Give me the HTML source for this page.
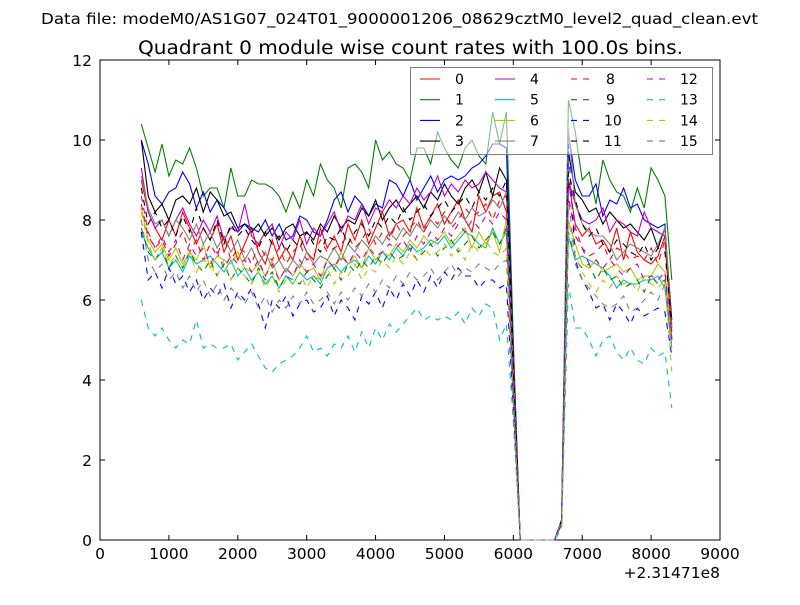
<!DOCTYPE html>
<html><head><meta charset="utf-8"><style>
body{margin:0;background:#fff;}
svg text{font-family:"DejaVu Sans","Liberation Sans",sans-serif;}
</style></head><body>
<svg id="chart" width="800" height="600" xmlns="http://www.w3.org/2000/svg">
<rect width="800" height="600" fill="#fff"/>
<text x="41" y="24" font-size="15" textLength="717" lengthAdjust="spacingAndGlyphs">Data file: modeM0/AS1G07_024T01_9000001206_08629cztM0_level2_quad_clean.evt</text>
<text x="138" y="54" font-size="18.5" textLength="545" lengthAdjust="spacingAndGlyphs">Quadrant 0 module wise count rates with 100.0s bins.</text>
<g id="plot"></g>
</svg>
<script>
const categories=[];for(let t=600;t<=8300;t+=100)categories.push(t);
const colors=['#ff0000','#008000','#0000ff','#000000','#bf00bf','#00bfbf','#bfbf00','#808080'];
const seriesNames=['0','1','2','3','4','5','6','7','8','9','10','11','12','13','14','15'];
const xTicks=[0,1000,2000,3000,4000,5000,6000,7000,8000,9000];
const yTicks=[0,2,4,6,8,10,12];
const s0a=[9.0,8.2,7.8,7.5,8.0,7.6,8.2,7.8,7.4,7.8,7.5,7.9,7.2,7.6,7.0,7.4,7.8,7.2,6.9,7.5,7.0,7.3,7.0,7.6,7.2,7.0,7.8,7.3,7.6,7.2,7.9,7.5,8.0,7.4,7.8,8.2,7.6,7.9,8.0,7.7,8.3,7.8,8.1,8.4,7.9,8.2,8.5,8.0,7.7,8.6,8.2,8.6,8.7,8.2];
const s0b=[9.0,7.9,7.6,7.8,7.4,7.5,7.2,7.8,7.0,7.7,7.2,7.0,6.9,7.1,7.6,5.3];
const s1a=[10.4,9.8,9.2,9.9,9.1,9.5,9.4,9.8,9.3,8.6,8.8,8.8,8.3,9.3,8.6,8.6,9.0,8.9,8.9,8.8,8.6,8.2,8.7,8.3,9.0,8.6,9.4,9.0,8.8,8.3,9.3,9.4,9.2,8.8,10.0,9.5,9.7,9.4,9.3,9.0,9.8,9.8,9.4,10.2,9.8,9.5,9.3,9.8,10.0,9.6,9.4,10.7,9.9,10.7];
const s1b=[11.0,10.2,9.0,9.2,8.4,9.5,9.0,8.7,8.6,8.2,8.8,8.3,9.3,9.0,8.6,6.5];
const s2a=[10.0,9.4,8.6,8.4,8.7,8.8,9.2,8.9,8.3,8.7,8.2,8.5,8.3,8.0,7.7,7.9,7.8,7.7,8.0,7.6,7.9,7.5,7.6,8.1,8.0,7.7,7.6,8.0,8.5,8.7,8.2,8.6,8.4,8.1,8.4,8.3,9.0,8.9,8.6,9.0,8.5,8.8,9.1,8.7,9.0,9.1,9.0,9.1,9.3,9.4,9.6,9.9,9.9,9.8];
const s2b=[10.2,9.0,8.6,8.6,8.9,8.1,8.5,8.4,8.8,8.3,8.4,8.0,7.9,7.8,7.9,5.0];
const s3a=[10.0,8.6,8.2,8.4,8.0,8.5,8.6,8.4,8.8,8.2,8.7,8.5,8.1,8.2,7.8,7.9,7.7,7.9,7.6,7.8,7.5,7.8,7.9,7.6,7.7,7.5,7.9,7.7,8.1,7.8,8.0,7.9,8.3,8.1,8.5,8.0,8.3,8.5,8.2,8.4,8.6,8.3,8.7,8.5,8.9,8.6,8.4,8.8,9.0,8.7,9.2,8.6,9.3,9.0];
const s3b=[9.7,8.7,8.5,8.2,8.3,7.9,8.2,8.0,7.8,7.9,7.7,7.5,7.8,7.3,7.8,5.5];
const s4a=[9.3,8.2,7.8,8.0,7.6,8.0,8.3,7.9,7.6,8.0,7.7,8.1,7.5,7.8,7.7,8.4,7.6,7.4,7.7,7.9,7.3,7.7,7.5,8.0,7.4,7.8,7.6,7.9,8.2,7.7,8.1,8.0,8.4,7.9,8.3,8.2,8.5,8.3,8.6,8.4,8.8,8.5,8.7,9.1,8.6,8.9,8.7,9.0,8.8,8.9,9.2,9.0,8.8,8.7];
const s4b=[9.0,8.4,8.0,7.9,8.0,8.3,7.7,8.0,7.9,7.7,7.6,8.2,7.8,7.7,7.6,5.0];
const s5a=[7.7,7.3,7.0,7.2,6.8,7.0,6.7,7.1,6.9,7.0,7.1,6.9,6.7,7.0,6.6,6.8,6.5,6.7,6.4,6.6,6.3,6.6,6.4,6.7,6.5,6.6,6.4,6.8,6.9,6.7,6.9,7.0,6.8,7.1,6.9,7.2,7.0,7.3,7.1,7.4,7.2,7.3,7.5,7.4,7.6,7.3,7.5,7.7,7.6,7.4,7.3,7.8,7.4,7.7];
const s5b=[7.6,7.0,7.1,7.0,6.9,6.8,6.6,6.3,6.5,6.4,6.4,6.5,6.5,6.6,6.3,4.8];
const s6a=[8.3,7.5,7.2,7.4,7.0,7.3,6.9,7.2,7.0,7.4,6.8,7.1,7.0,6.9,7.2,6.8,6.7,6.9,6.6,7.0,6.5,6.8,6.6,6.9,6.7,6.8,6.5,7.0,6.8,7.2,6.9,7.1,6.8,7.3,7.0,7.2,7.1,7.4,7.2,7.5,7.3,7.6,7.4,7.5,7.7,7.4,7.6,7.8,7.3,7.7,7.4,7.7,7.2,8.0];
const s6b=[8.0,7.4,6.9,6.8,7.0,6.7,6.8,6.9,6.7,6.8,6.5,6.6,6.6,6.9,6.7,5.0];
const s7a=[9.1,8.3,7.9,8.0,7.6,8.0,7.8,7.5,7.9,7.4,7.7,7.3,7.6,7.2,7.5,7.0,7.3,6.9,7.2,6.8,7.0,6.7,7.0,6.8,7.2,6.9,7.1,7.0,7.3,7.0,7.4,7.2,7.5,7.3,7.6,7.4,7.7,7.5,7.8,7.6,7.9,7.7,8.0,7.8,8.1,7.9,8.2,8.0,8.3,8.1,8.2,8.5,8.3,8.7];
const s7b=[10.3,8.4,7.9,7.7,7.6,7.6,7.4,7.0,7.2,7.4,7.3,7.2,7.1,7.4,7.8,5.3];
const s8a=[8.4,7.6,7.3,7.5,7.1,7.4,7.7,7.2,7.5,7.0,7.4,7.1,7.6,7.0,7.3,7.2,6.9,7.4,7.1,7.0,7.3,6.9,7.2,7.4,7.0,7.1,7.5,7.2,7.3,7.4,7.6,7.3,7.5,7.8,7.4,7.7,7.5,7.9,7.6,7.8,8.0,7.7,8.1,7.9,8.2,7.8,8.0,8.3,8.1,8.2,8.4,8.0,8.5,8.6];
const s8b=[8.6,7.6,7.3,7.1,7.2,7.4,7.0,7.3,7.2,7.0,7.1,7.0,7.3,6.9,7.5,5.2];
const s9a=[7.8,7.2,7.0,7.3,6.8,7.1,6.8,7.2,6.9,6.7,7.0,6.6,6.9,6.5,6.8,6.6,6.4,6.8,6.5,6.7,6.3,6.6,6.5,6.4,6.7,6.5,6.3,6.6,6.8,6.5,6.9,6.7,7.0,6.8,7.1,6.9,7.2,7.0,7.1,7.3,7.0,7.2,7.4,7.1,7.3,7.5,7.2,7.4,7.6,7.3,7.5,7.7,7.4,7.8];
const s9b=[7.7,7.0,6.8,6.9,6.5,6.8,6.5,6.6,6.3,6.4,6.5,6.2,6.6,6.4,6.5,4.8];
const s10a=[7.7,6.5,6.7,6.3,6.8,6.4,6.6,6.2,6.5,6.0,6.3,6.1,6.4,5.8,6.2,6.0,6.3,5.9,5.3,6.0,5.8,6.1,5.6,5.9,6.0,5.7,5.8,6.1,5.6,6.0,5.8,5.5,6.1,5.9,6.2,5.8,6.3,6.0,6.4,6.1,6.5,6.2,6.6,6.3,6.7,6.5,6.8,6.6,6.6,6.3,6.5,6.5,6.3,6.4];
const s10b=[9.9,7.0,6.5,6.2,5.8,5.9,5.5,5.9,5.7,5.4,5.8,5.6,5.7,5.8,5.7,4.6];
const s11a=[8.8,7.9,8.2,7.8,8.0,7.6,8.1,7.7,8.3,7.8,7.5,8.0,7.4,7.9,7.6,7.8,7.5,7.3,7.7,7.4,7.6,7.2,7.5,7.3,7.7,7.4,7.2,7.6,7.5,7.8,7.4,7.7,7.9,7.6,8.0,7.8,8.1,7.9,8.3,8.0,8.2,8.4,8.1,8.3,8.5,8.2,8.4,8.6,8.3,8.7,8.5,8.8,8.6,9.0];
const s11b=[9.2,8.5,7.9,7.6,7.8,7.4,7.2,7.5,7.4,7.2,7.1,7.4,7.0,7.3,7.2,5.4];
const s12a=[8.6,7.7,7.3,7.6,7.2,7.5,7.0,7.4,7.1,7.3,6.9,7.2,6.8,7.1,6.9,7.0,6.7,7.0,6.6,6.9,6.5,6.8,6.6,7.0,6.7,6.9,6.6,7.0,6.8,7.1,6.9,7.2,7.0,7.3,7.1,7.2,7.4,7.3,7.5,7.2,7.6,7.4,7.7,7.5,7.8,7.6,7.9,7.7,8.0,7.8,8.1,7.9,8.2,8.0];
const s12b=[9.0,7.8,7.3,6.9,7.0,6.8,7.0,6.8,6.6,6.8,6.9,6.5,6.6,6.5,6.7,5.0];
const s13a=[6.0,5.3,5.1,5.3,5.0,4.8,5.0,4.9,5.5,4.8,4.9,4.8,4.8,4.9,4.5,4.7,4.9,4.6,4.3,4.2,4.4,4.5,4.6,4.8,5.1,4.7,4.8,4.6,4.9,4.8,5.1,4.7,5.2,4.8,5.3,5.0,5.4,5.2,5.4,5.6,5.8,5.5,5.6,5.5,5.6,5.5,5.7,5.4,5.8,5.6,5.9,5.8,5.0,5.4];
const s13b=[6.4,5.3,5.3,5.0,4.6,5.0,5.1,4.7,4.5,4.8,4.5,4.4,4.8,4.6,4.7,3.3];
const s14a=[8.2,7.4,7.0,7.3,6.9,7.1,6.8,7.2,6.7,7.0,6.9,6.6,7.0,6.5,6.8,6.6,6.4,6.7,6.3,6.6,6.2,6.5,6.4,6.7,6.3,6.6,6.5,6.8,6.4,6.7,6.6,6.9,6.5,6.8,6.7,7.0,6.8,7.1,6.9,7.2,7.0,7.3,7.1,7.2,7.4,7.1,7.3,7.0,7.4,7.2,7.5,7.2,7.1,7.3];
const s14b=[8.0,7.1,6.7,6.4,6.2,6.5,6.3,6.6,6.4,6.5,6.2,6.6,6.4,6.3,6.5,4.2];
const s15a=[8.0,7.0,6.7,6.9,6.5,6.7,6.3,6.6,6.2,6.5,6.1,6.4,6.0,6.3,6.1,5.9,6.2,5.8,6.1,5.7,6.0,5.8,6.1,5.9,6.2,5.9,6.0,6.2,5.9,6.2,6.0,6.3,6.1,6.4,6.2,6.5,6.3,6.6,6.4,6.7,6.5,6.6,6.8,6.5,6.7,6.9,6.6,6.8,6.7,6.9,6.8,6.7,6.9,7.0];
const s15b=[8.6,6.9,6.5,6.3,6.1,5.9,5.8,5.9,6.1,5.7,5.8,6.0,6.2,6.0,6.4,4.8];
const at6000=[4.3,5.0,4.6,4.5,4.4,3.8,3.9,4.2,4.2,3.7,3.3,4.3,3.8,3.0,3.6,3.4];
const gapZeros=[0,0,0,0,0,0];
const at6700=[0.5,0.5,0.5,0.5,0.5,0.4,0.4,0.5,0.4,0.4,0.4,0.5,0.4,0.3,0.4,0.4];
const segA=[s0a,s1a,s2a,s3a,s4a,s5a,s6a,s7a,s8a,s9a,s10a,s11a,s12a,s13a,s14a,s15a];
const segB=[s0b,s1b,s2b,s3b,s4b,s5b,s6b,s7b,s8b,s9b,s10b,s11b,s12b,s13b,s14b,s15b];

const L=100,R=720,T=60,B=540;
const xs=v=>L+(v-0)/9000*(R-L);
const ys=v=>B-(v-0)/12*(B-T);
const NS='http://www.w3.org/2000/svg';
const g=document.getElementById('plot');
function mk(tag,at,parent){const e=document.createElementNS(NS,tag);for(const k in at)e.setAttribute(k,at[k]);(parent||g).appendChild(e);return e;}

const fr=mk('rect',{x:L,y:T,width:R-L,height:B-T,fill:'none',stroke:'#000','stroke-width':1});


const clip=mk('clipPath',{id:'pc'});mk('rect',{x:L,y:T-2,width:R-L,height:B-T+4},clip);
const lines=mk('g',{'clip-path':'url(#pc)'});


for(let i=0;i<16;i++){
  const vals=segA[i].concat([at6000[i]],gapZeros,[at6700[i]],segB[i]);
  const d=vals.map((v,j)=>(j?'L':'M')+xs(categories[j]).toFixed(1)+','+ys(v).toFixed(1)).join('');
  const p=mk('path',{d:d,fill:'none',stroke:colors[i%8],'stroke-width':1.1},lines);
  if(i>=8)p.setAttribute('stroke-dasharray','6,6');
  
  
}
for(const t of xTicks){
  const x=xs(t);
  mk('line',{x1:x,y1:B,x2:x,y2:B-5,stroke:'#000'});
  mk('line',{x1:x,y1:T,x2:x,y2:T+5,stroke:'#000'});
  const tx=mk('text',{x:x,y:B+19,'font-size':15.5,'text-anchor':'middle'});tx.textContent=t;
  
  
}
for(const t of yTicks){
  const y=ys(t);
  mk('line',{x1:L,y1:y,x2:L+5,y2:y,stroke:'#000'});
  mk('line',{x1:R,y1:y,x2:R-5,y2:y,stroke:'#000'});
  const tx=mk('text',{x:L-8,y:y+6,'font-size':15.5,'text-anchor':'end'});tx.textContent=t;
  
  
}
const off=mk('text',{x:R,y:578,'font-size':15.5,'text-anchor':'end'});off.textContent='+2.31471e8';


const lg=mk('g',{});


mk('rect',{x:410.5,y:67.5,width:302,height:87,fill:'#fff','fill-opacity':0.5,stroke:'#808080','stroke-width':1},lg);
const colX=[420,495,571,647];
for(let i=0;i<16;i++){
  const c=Math.floor(i/4),r=i%4;const x=colX[c],y=79+r*20.7;
  const e=mk('g',{},lg);
  
  
  const ln=mk('line',{x1:x,y1:y,x2:x+20,y2:y,stroke:colors[i%8],'stroke-width':1.1},e);
  if(i>=8)ln.setAttribute('stroke-dasharray','6,6');
  const tx=mk('text',{x:(i<10?x+35:x+33),y:y+5,'font-size':14},e);tx.textContent=seriesNames[i];
}
</script>
</body></html>
